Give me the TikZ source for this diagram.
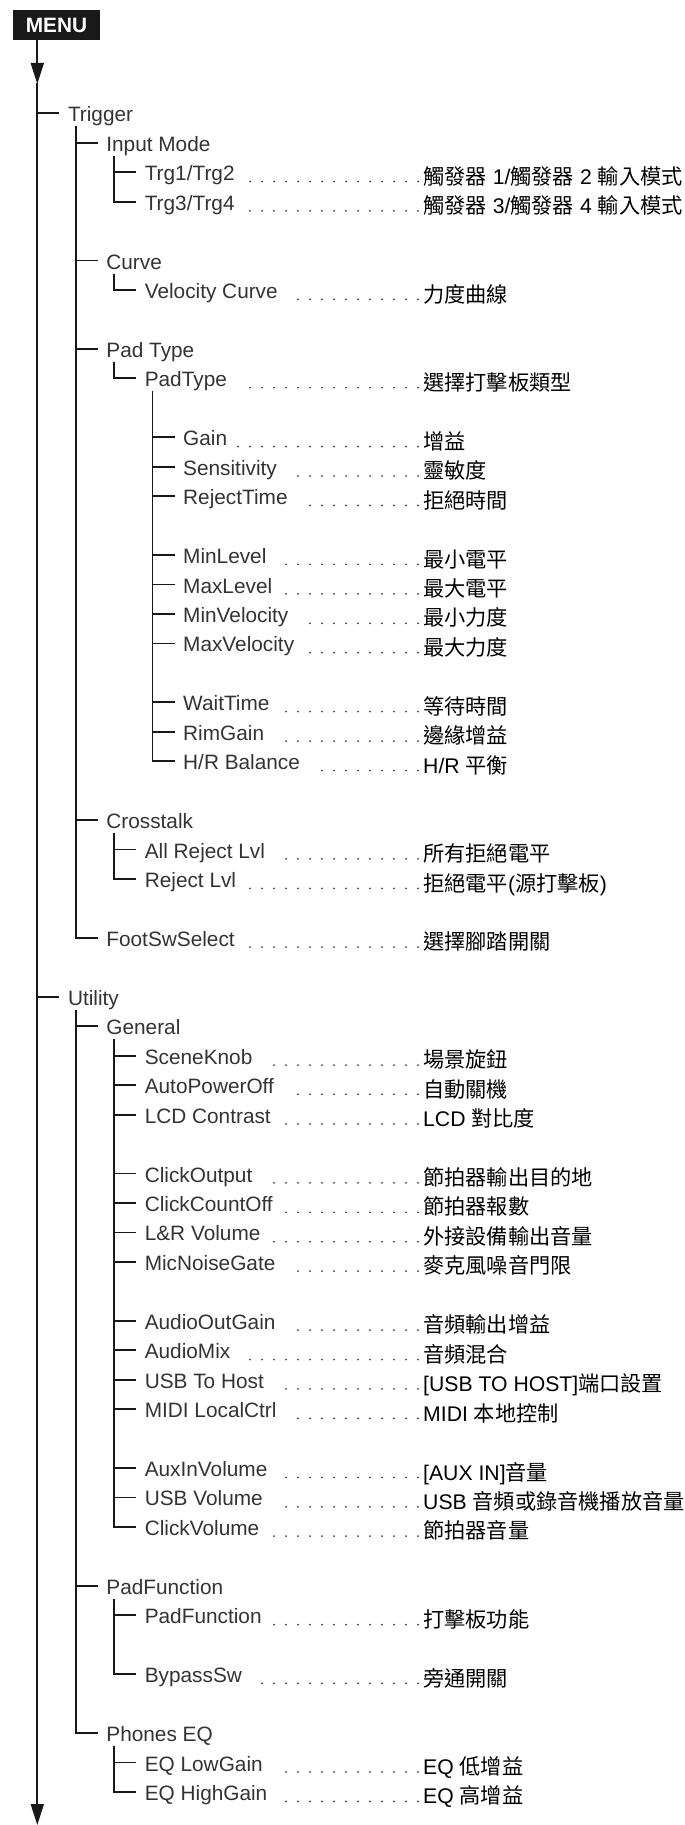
\documentclass[tikz,border=0pt]{standalone}
\usepackage{fontspec}
\setmainfont{Liberation Sans}
\newfontfamily\zhfont{Noto Sans CJK TC}
\usetikzlibrary{arrows.meta,calc}
\newcommand\lblsize{\fontsize{20.8pt}{24pt}\selectfont}
\newcommand\cnsize{\fontsize{21.2pt}{24pt}\selectfont}
\newcommand\lat[1]{{\rmfamily #1}}
\newcommand\gap{\hspace{6pt}}
\tikzset{tree/.style={draw=black!90,line width=1.8pt,line cap=rect}}
\tikzset{item/.style={anchor=base west,inner sep=0pt,text=black!80,font=\lblsize}}
\tikzset{cnitem/.style={anchor=base west,inner sep=0pt,text=black,font=\cnsize\zhfont}}
\tikzset{leader/.style={draw=black!75,line width=2pt,line cap=round,dash pattern=on 0pt off 12pt}}
\tikzset{menubox/.style={fill=black!90,text=white,font=\lblsize\bfseries,minimum width=87pt,minimum height=30pt,inner sep=0pt}}
\tikzset{>={Triangle[width=13pt,length=21pt]}}

\begin{document}
\begin{tikzpicture}[x=1pt,y=-1pt]
\useasboundingbox (0,0) rectangle (685,1825);
\node[menubox] (menu) at (56.5,25) {MENU};
\coordinate (m0) at (37.3,40);
\coordinate (a1) at (37.3,84);
\coordinate (m1) at (37.3,1825);
\draw[tree,->] (m0) -- (a1);
\draw[tree,->] (a1) -- (m1);

% menu entries
\foreach \lv/\k/\txt [evaluate=\lv as \xv using 37.3+38.4*(\lv-1),
                      evaluate=\k as \y using 113.3+29.45*\k] in
  {1/0/Trigger, 2/1/Input Mode, 3/2/{Trg1/Trg2}, 3/3/{Trg3/Trg4},
   2/5/Curve, 3/6/Velocity Curve, 2/8/Pad Type, 3/9/PadType,
   4/11/Gain, 4/12/Sensitivity, 4/13/RejectTime,
   4/15/MinLevel, 4/16/MaxLevel, 4/17/MinVelocity, 4/18/MaxVelocity,
   4/20/WaitTime, 4/21/RimGain, 4/22/{H/R Balance},
   2/24/Crosstalk, 3/25/All Reject Lvl, 3/26/Reject Lvl, 2/28/FootSwSelect,
   1/30/Utility, 2/31/General, 3/32/SceneKnob, 3/33/AutoPowerOff, 3/34/LCD Contrast,
   3/36/ClickOutput, 3/37/ClickCountOff, 3/38/L\&R Volume, 3/39/MicNoiseGate,
   3/41/AudioOutGain, 3/42/AudioMix, 3/43/USB To Host, 3/44/MIDI LocalCtrl,
   3/46/AuxInVolume, 3/47/USB Volume, 3/48/ClickVolume,
   2/50/PadFunction, 3/51/PadFunction, 3/53/BypassSw,
   2/55/Phones EQ, 3/56/EQ LowGain, 3/57/EQ HighGain}{
  \coordinate (t\k) at (\xv,\y);
  \node[item] (n\k) at (\xv+30.5,\y+8.5) {\txt};
  \draw[tree,shorten >=9.4pt] (t\k) -- (t\k -| n\k.west);
}

% branches
\foreach \a/\b in {0/28, 1/3, 5/6, 8/9, 9/22, 24/26, 30/55, 31/48, 50/53, 55/57}{
  \draw[tree] (t\b |- t\a) ++(0,14) -- (t\b);
}

% leaders and descriptions
\foreach \k/\dx/\cn [evaluate=\k as \y using 113.3+29.45*\k] in
  {2/250/{觸發器\lat{\gap 1/}觸發器\lat{\gap 2\gap}輸入模式},
   3/250/{觸發器\lat{\gap 3/}觸發器\lat{\gap 4\gap}輸入模式},
   6/298/力度曲線, 9/250/選擇打擊板類型,
   11/238/增益, 12/298/靈敏度, 13/310/拒絕時間,
   15/286/最小電平, 16/286/最大電平, 17/310/最小力度, 18/310/最大力度,
   20/286/等待時間, 21/286/邊緣增益, 22/322/{\lat{H/R }平衡},
   25/286/所有拒絕電平, 26/250/{拒絕電平\lat{(}源打擊板\lat{)}}, 28/250/選擇腳踏開關,
   32/274/場景旋鈕, 33/298/自動關機, 34/286/{\lat{LCD }對比度},
   36/274/節拍器輸出目的地, 37/286/節拍器報數, 38/274/外接設備輸出音量, 39/298/麥克風噪音門限,
   41/298/音頻輸出增益, 42/250/音頻混合, 43/286/{\lat{[USB TO HOST]}端口設置}, 44/298/{\lat{MIDI }本地控制},
   46/286/{\lat{[AUX IN]}音量}, 47/286/{\lat{USB }音頻或錄音機播放音量}, 48/274/節拍器音量,
   51/274/打擊板功能, 53/262/旁通開關,
   56/286/{\lat{EQ }低增益}, 57/286/{\lat{EQ }高增益}}{
  \node[cnitem] (z\k) at (423,\y+12) {\cn};
  \coordinate (d\k) at (\dx-1,\y+9.3);
  \draw[leader,shorten <=5pt] (d\k -| z\k.west) -- (d\k);
}
\end{tikzpicture}
\end{document}
